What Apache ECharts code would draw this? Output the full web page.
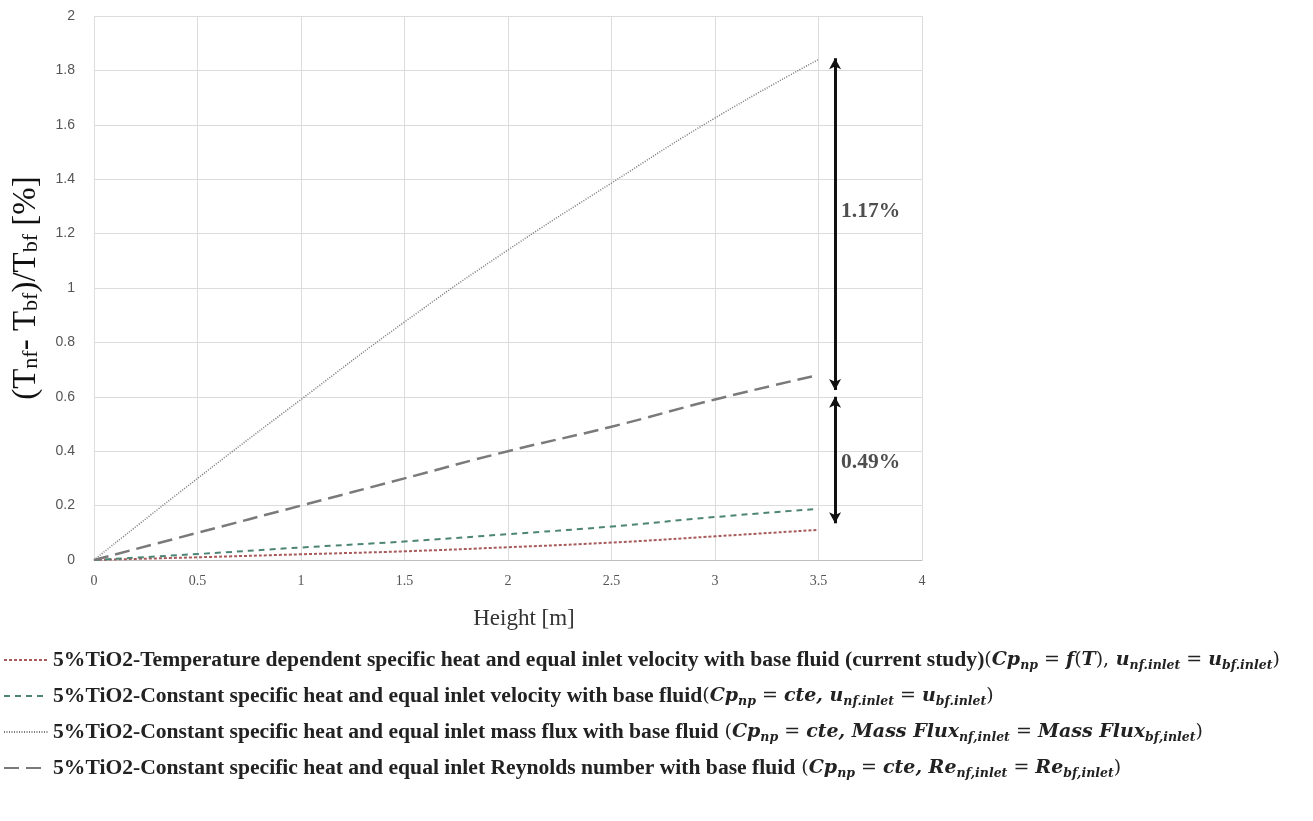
<!DOCTYPE html>
<html><head><meta charset="utf-8">
<script src="https://cdn.jsdelivr.net/npm/echarts@6/dist/echarts.min.js"></script>
<style>html,body{margin:0;padding:0;background:#fff}#c{width:1313px;height:821px}</style>
</head><body><div id="c"></div>
<script>
const heights = [0, 0.5, 1, 1.5, 2, 2.5, 3, 3.5];
const tempDependent = [0, 0.010, 0.021, 0.032, 0.047, 0.064, 0.087, 0.111];
const constVelocity = [0, 0.022, 0.046, 0.068, 0.095, 0.123, 0.158, 0.188];
const constMassFlux = [0, 0.30, 0.59, 0.875, 1.14, 1.386, 1.625, 1.84];
const constReynolds = [0, 0.10, 0.20, 0.30, 0.40, 0.49, 0.59, 0.68];
const seriesNames = [
  '5%TiO2-Temperature dependent specific heat and equal inlet velocity with base fluid (current study)',
  '5%TiO2-Constant specific heat and equal inlet velocity with base fluid',
  '5%TiO2-Constant specific heat and equal inlet mass flux with base fluid',
  '5%TiO2-Constant specific heat and equal inlet Reynolds number with base fluid'
];
// annotation arrows: [x, yFrom, yTo]
const arrows = [[3.58, 1.845, 0.625], [3.58, 0.6, 0.135]];
const arrowLabels = [[3.58, 1.28, '1.17%'], [3.58, 0.357, '0.49%']];

const pts = v => heights.map((h, i) => [h, v[i]]);
const EQ = '{q| = }';
const mathParts = [
  '{p|(}{m|Cp}{s|np}' + EQ + '{m|f}{p|(}{m|T}{p|),}{m| u}{s|nf.inlet}' + EQ + '{m|u}{s|bf.inlet}{p|)}',
  '{p|(}{m|Cp}{s|np}' + EQ + '{m|cte, u}{s|nf.inlet}' + EQ + '{m|u}{s|bf.inlet}{p|)}',
  '{p| (}{m|Cp}{s|np}' + EQ + '{m|cte, Mass Flux}{s|nf,inlet}' + EQ + '{m|Mass Flux}{s|bf,inlet}{p|)}',
  '{p| (}{m|Cp}{s|np}' + EQ + '{m|cte, Re}{s|nf,inlet}' + EQ + '{m|Re}{s|bf,inlet}{p|)}'
];
const serif = 'Liberation Serif';
const mathFont = 'DejaVu Serif';
const chart = echarts.init(document.getElementById('c'));
chart.setOption({
  animation: false,
  grid: {left: 94, right: 391, top: 16, bottom: 261, containLabel: false, outerBoundsMode: 'none'},
  xAxis: {
    type: 'value', min: 0, max: 4, interval: 0.5,
    name: 'Height [m]', nameLocation: 'middle', nameGap: 47,
    nameTextStyle: {fontFamily: serif, fontSize: 23, color: '#333', padding: [0, 0, 0, 32]},
    axisLine: {lineStyle: {color: '#bfbfbf'}}, axisTick: {show: false},
    axisLabel: {fontFamily: serif, fontSize: 14, color: '#555', margin: 14},
    splitLine: {lineStyle: {color: '#dcdcdc'}}
  },
  yAxis: {
    type: 'value', min: 0, max: 2, interval: 0.2,
    name: '{n|(T}{ns|nf}{n|- T}{ns|bf}{n|)/T}{ns|bf}{n| [%]}', nameLocation: 'middle', nameGap: 52,
    nameTextStyle: {rich: {
      n: {fontFamily: serif, fontSize: 33, color: '#111', lineHeight: 32},
      ns: {fontFamily: serif, fontSize: 22, color: '#111', verticalAlign: 'bottom', lineHeight: 16}
    }},
    axisLine: {show: false}, axisTick: {show: false},
    axisLabel: {fontFamily: 'Liberation Sans', fontSize: 14, color: '#555', margin: 19, formatter: v => String(+v.toFixed(1))},
    splitLine: {lineStyle: {color: '#dcdcdc'}}
  },
  legend: {
    orient: 'vertical', left: -2, top: 644, itemGap: 13, itemWidth: 44, itemHeight: 14,
    itemStyle: {opacity: 0},
    data: seriesNames,
    formatter: name => '{t|' + name + '}' + mathParts[seriesNames.indexOf(name)],
    textStyle: {rich: {
      t: {fontFamily: serif, fontWeight: 'bold', fontSize: 21.6, color: '#222', lineHeight: 24},
      p: {fontFamily: mathFont, fontSize: 19, color: '#222', lineHeight: 24},
      q: {fontFamily: mathFont, fontSize: 19, color: '#222', lineHeight: 24},
      m: {fontFamily: mathFont, fontWeight: 'bold', fontStyle: 'italic', fontSize: 19, color: '#222', lineHeight: 24},
      s: {fontFamily: mathFont, fontWeight: 'bold', fontStyle: 'italic', fontSize: 12.5, color: '#222', verticalAlign: 'bottom', lineHeight: 10}
    }}
  },
  series: [
    {name: seriesNames[0], type: 'line', data: pts(tempDependent), symbol: 'none', smooth: true,
     color: '#a85a5a', lineStyle: {color: '#a85a5a', width: 2, type: [3, 2]}},
    {name: seriesNames[1], type: 'line', data: pts(constVelocity), symbol: 'none', smooth: true,
     color: '#4d8575', lineStyle: {color: '#4d8575', width: 2, type: [6, 5]}},
    {name: seriesNames[2], type: 'line', data: pts(constMassFlux), symbol: 'none', smooth: true,
     color: '#777', lineStyle: {color: '#777', width: 1.5, type: [1, 1.5]},
     markLine: {
       silent: true, symbol: ['arrow', 'arrow'], symbolSize: [9, 11],
       lineStyle: {color: '#111', width: 3, type: 'solid'}, label: {show: false},
       data: arrows.map(a => [{coord: [a[0], a[1]]}, {coord: [a[0], a[2]]}])
     }},
    {name: seriesNames[3], type: 'line', data: pts(constReynolds), symbol: 'none', smooth: true,
     color: '#7a7a7a', lineStyle: {color: '#7a7a7a', width: 2.5, type: [15, 7]}},
    {name: 'labels', type: 'scatter', data: arrowLabels, symbolSize: 0, silent: true,
     label: {show: true, position: 'right', distance: 6, formatter: p => p.data[2],
       fontFamily: serif, fontWeight: 'bold', fontSize: 21.5, color: '#222'}}
  ]
});
</script></body></html>
